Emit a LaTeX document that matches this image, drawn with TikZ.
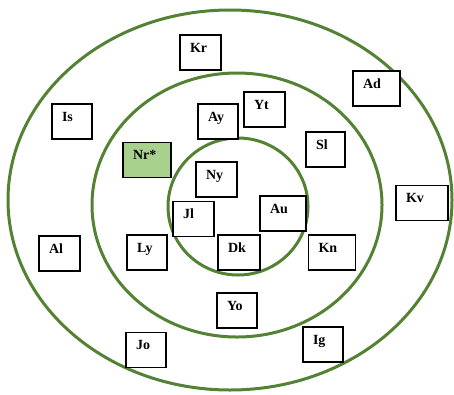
\documentclass[tikz,border=0pt]{standalone}
\usepackage{fontspec}
\setmainfont{Liberation Serif}
\usepackage{tikz}
\definecolor{ringgreen}{RGB}{84,130,53}
\definecolor{leafgreen}{RGB}{169,209,142}

\begin{document}
\begin{tikzpicture}[x=1pt, y=-1pt, font=\fontsize{14}{16}\selectfont\bfseries]
		\tikzset{ring/.style={draw=ringgreen, line width=3pt},
			cell/.style={draw, fill=white, line width=1.1pt, inner xsep=10pt, inner ysep=0pt, text width=#1, align=left, text height=17pt, text depth=18pt},
			cell/.default=21pt}
		\useasboundingbox (0,0) rectangle (454,394);
		% circles
		\draw[ring] (230,200) ellipse [x radius=222, y radius=190];
		\draw[ring] (237,205) ellipse [x radius=145, y radius=132];
		\draw[ring] (238,206.5) ellipse [x radius=70, y radius=68.5];
		% outer ring
		\node[cell] (kr) at (200.5,52.5) {Kr};
		\node[cell=27pt] (ad) at (376.5,88.5) {Ad};
		\node[cell=20pt] (is) at (72,121.5) {Is};
		\node[cell=32pt] (kv) at (422,203) {Kv};
		\node[cell] (al) at (59.5,253.5) {Al};
		\node[cell=20pt] (jo) at (146,350) {Jo};
		\node[cell=20pt] (ig) at (323,344.5) {Ig};
		% middle ring
		\node[cell=20pt] (ay) at (218,121.5) {Ay};
		\node[cell] (yt) at (264.5,109.5) {Yt};
		\node[cell=19pt] (sl) at (325.5,149.5) {Sl};
		\node[cell=28pt, fill=leafgreen] (nr) at (147,160) {Nr*};
		\node[cell=20pt] (ly) at (147,252.5) {Ly};
		\node[cell=27pt] (kn) at (332,252.5) {Kn};
		\node[cell=20pt] (yo) at (237,310.5) {Yo};
		% inner ring
		\node[cell] (ny) at (216.5,179.5) {Ny};
		\node[cell] (jl) at (193.5,219) {Jl};
		\node[cell=26pt] (au) at (283,213.5) {Au};
		\node[cell=22pt] (dk) at (239,252.5) {Dk};
	\end{tikzpicture}
\end{document}
